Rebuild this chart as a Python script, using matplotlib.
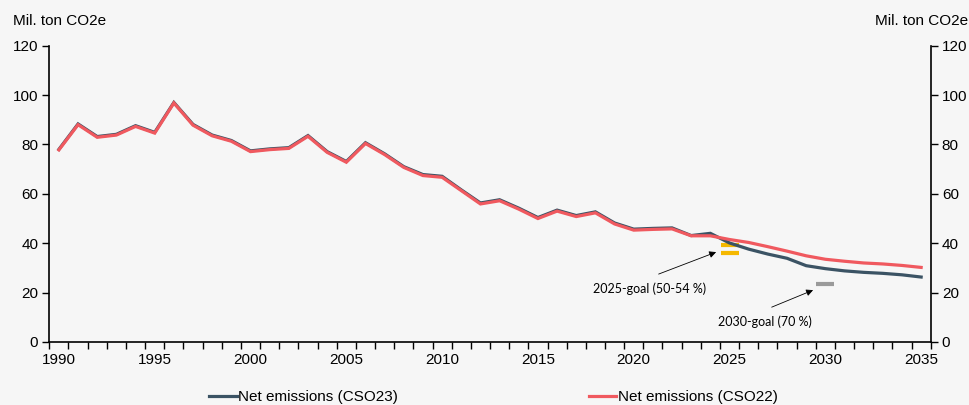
import numpy as np
import matplotlib.pyplot as plt
from matplotlib.ticker import FixedLocator

plt.rcParams['font.family'] = ['Liberation Sans', 'DejaVu Sans']

years = list(range(1990, 2036))

# net emissions, mil. ton CO2e
cso23 = [78.0, 88.3, 83.2, 84.1, 87.6, 84.9, 97.0, 88.1, 83.8, 81.6,
         77.4, 78.2, 78.7, 83.6, 77.1, 73.1, 80.7, 76.2, 71.0, 67.8,
         67.1, 61.6, 56.3, 57.6, 54.2, 50.4, 53.4, 51.2, 52.7, 48.2,
         45.7, 46.0, 46.2, 43.1, 44.0, 40.1, 37.6, 35.6, 33.9, 30.9,
         29.7, 28.8, 28.2, 27.8, 27.2, 26.3]
cso22 = [77.8, 88.0, 82.9, 83.8, 87.3, 84.6, 96.8, 87.8, 83.5, 81.3,
         77.1, 77.9, 78.4, 83.3, 76.8, 72.8, 80.4, 75.9, 70.7, 67.4,
         66.7, 61.3, 55.9, 57.2, 53.8, 50.0, 53.0, 50.8, 52.3, 47.8,
         45.3, 45.6, 45.8, 43.0, 43.0, 41.5, 40.3, 38.6, 36.8, 34.9,
         33.5, 32.7, 32.0, 31.6, 31.0, 30.2]

goal_2025_years = [2025, 2025]
goal_2025 = [39.2, 36.0]
goal_2030_years = [2030]
goal_2030 = [23.4]

dark = '#3b5364'
red = '#f0595f'
bg = '#f6f6f6'

fig = plt.figure(figsize=(9.69, 4.05), dpi=100, facecolor=bg)
ax = fig.add_axes([0.0509, 0.1556, 0.9096, 0.7316], facecolor=bg)

ax.plot(years, cso23, color=dark, lw=2.3, solid_joinstyle='miter',
        label='Net emissions (CSO23)', zorder=3)
ax.plot(years, cso22, color=red, lw=2.3, solid_joinstyle='miter',
        label='Net emissions (CSO22)', zorder=4)

ax.plot(goal_2025_years, goal_2025, ls='none', marker='_', ms=13, mew=3,
        color='#f5b800', zorder=2)
ax.plot(goal_2030_years, goal_2030, ls='none', marker='_', ms=13, mew=3,
        color='#9a9a9a', zorder=2)

ax.set_xlim(1989.5, 2035.5)
ax.set_ylim(0, 120)

# year labels every 5 years, tick marks at the category borders
ax.xaxis.set_major_locator(FixedLocator(list(range(1990, 2036, 5))))
ax.xaxis.set_minor_locator(FixedLocator(np.arange(1989.5, 2036, 1)))
ax.tick_params(axis='x', which='major', length=0, pad=8, labelsize=11)
ax.tick_params(axis='x', which='minor', length=5, width=1, direction='out')
ax.set_yticks(range(0, 121, 20))
ax.tick_params(axis='y', length=5, width=1, labelsize=11, pad=3)

for s in ['top', 'right']:
    ax.spines[s].set_visible(False)
for s in ['left', 'bottom']:
    ax.spines[s].set_linewidth(1.2)

ax2 = ax.twinx()
ax2.set_ylim(0, 120)
ax2.set_yticks(range(0, 121, 20))
ax2.tick_params(axis='y', length=5, width=1, labelsize=11, pad=3)
for s in ['top', 'left', 'bottom']:
    ax2.spines[s].set_visible(False)
ax2.spines['right'].set_linewidth(1.2)

fig.text(13 / 969, 1 - 21 / 405, 'Mil. ton CO2e', fontsize=11, va='center', ha='left')
fig.text(968 / 969, 1 - 21 / 405, 'Mil. ton CO2e', fontsize=11, va='center', ha='right')

# goal labels with arrows pointing at the markers
ann_font = dict(family=['Lato', 'DejaVu Sans'], fontsize=9)
arrow = dict(arrowstyle='-|>', color='black', lw=0.6, mutation_scale=10,
             shrinkA=0, shrinkB=0)
ax.text(2020.85, 21.4, '2025-goal (50-54 %)', ha='center', va='center', **ann_font)
ax.annotate('', xy=(2024.3, 36.4), xytext=(2021.3, 27.5), arrowprops=arrow)
ax.text(2026.85, 8.1, '2030-goal (70 %)', ha='center', va='center', **ann_font)
ax.annotate('', xy=(2029.36, 21.0), xytext=(2027.2, 14.1), arrowprops=arrow)

fig.legend(loc='center', bbox_to_anchor=(0.5 + 9 / 969, 1 - 397 / 405), ncol=2,
           frameon=False, fontsize=11, handlelength=1.8, handletextpad=0.1,
           columnspacing=12.5)

fig.savefig('out.png', dpi=100, facecolor=bg)
